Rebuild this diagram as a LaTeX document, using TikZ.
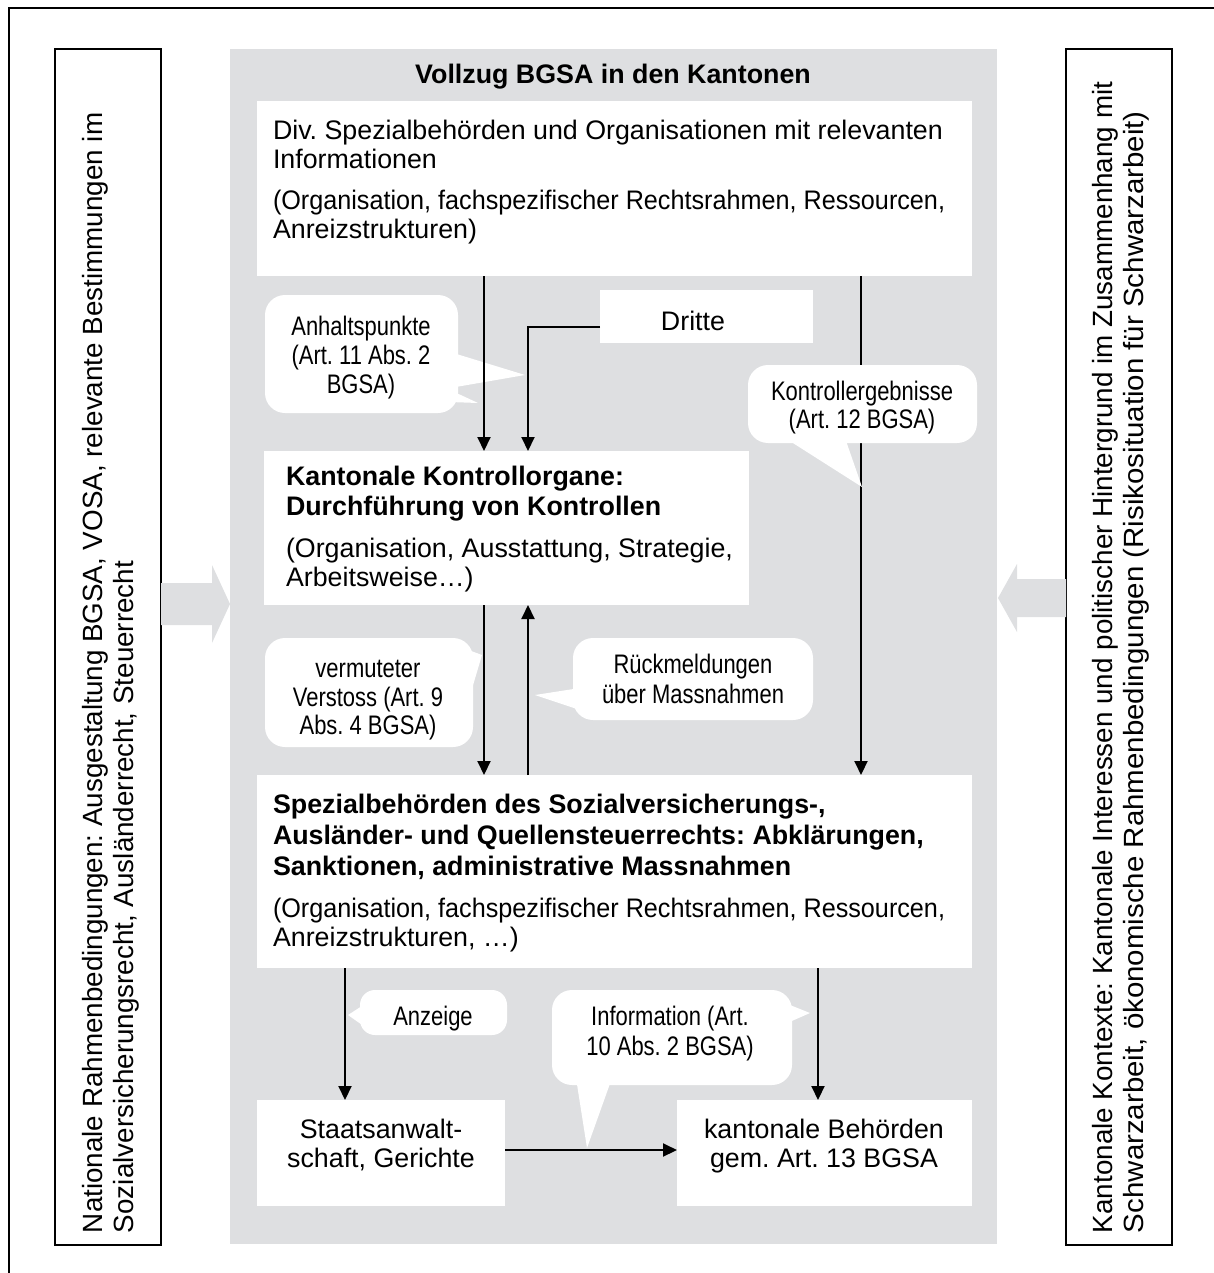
\documentclass[tikz,border=0pt]{standalone}
\usepackage{fontspec}
\setmainfont{Liberation Sans}
\newfontfamily\narrowfont[FakeStretch=0.82]{Liberation Sans}
\newfontfamily\condfont[FakeStretch=0.94]{Liberation Sans}
\newfontfamily\widefont[FakeStretch=1.06]{Liberation Sans}
\usetikzlibrary{arrows.meta,calc}
\definecolor{panel}{HTML}{DEDFE1}
\frenchspacing
\begin{document}
\begin{tikzpicture}[x=1pt,y=-1pt,
  every node/.style={inner sep=0pt, outer sep=0pt},
  wbox/.style={fill=white, anchor=north west},
  sbox/.style={draw=black, line width=2pt, anchor=north west, fill=white},
  txt/.style={font=\fontsize{26.8}{30}\selectfont, anchor=base west},
  ctxtl/.style={font=\condfont\fontsize{26.8}{30}\selectfont, anchor=base west},
  stxt/.style={font=\fontsize{27.8}{30}\selectfont, anchor=base west, rotate=90},
  btxt/.style={font=\fontsize{26.8}{30}\selectfont\bfseries, anchor=base west},
  ctxt/.style={font=\fontsize{26.8}{30}\selectfont, anchor=base},
  ntxt/.style={font=\narrowfont\fontsize{26.8}{30}\selectfont, anchor=base},
  conn/.style={line width=2pt, -{Triangle[length=14pt,width=13pt]}},
  bub/.style={fill=white, rounded corners=20pt, anchor=north west},
  tailfill/.style={fill=white},
  garrow/.style={fill=panel}
]
\useasboundingbox (0,0) rectangle (1214,1273);
% outer frame (clipped)
\draw[line width=2.5pt] (9,1273) -- (9,8) -- (1214,8);

% side boxes
\node[sbox, minimum width=106pt, minimum height=1196pt] (lbox) at (55,49) {};
\node[sbox, minimum width=106pt, minimum height=1196pt] (rbox) at (1066,49) {};
\node[stxt] (l1) at (102,1233) {Nationale Rahmenbedingungen: Ausgestaltung BGSA, VOSA, relevante Bestimmungen im};
\node[stxt] (l2) at (133,1233) {Sozialversicherungsrecht, Ausländerrecht, Steuerrecht};
\node[stxt] (r1) at (1112,1233) {Kantonale Kontexte: Kantonale Interessen und politischer Hintergrund im Zusammenhang mit};
\node[stxt, font=\widefont\fontsize{27.8}{30}\selectfont] (r2) at (1143,1233) {Schwarzarbeit, ökonomische Rahmenbedingungen (Risikosituation für Schwarzarbeit)};

% central panel
\node[fill=panel, anchor=north west, minimum width=767pt, minimum height=1195pt] (panel) at (230,49) {};
% grey block arrows
\fill[garrow] (161,583) -- (212,583) -- (212,565) -- (230,604) -- (212,643) -- (212,625) -- (161,625) -- cycle;
\fill[garrow] (1066,579) -- (1017,579) -- (1017,564) -- (998,598) -- (1017,632) -- (1017,617) -- (1066,617) -- cycle;

\node[btxt, anchor=base] (title) at (613,84) {Vollzug BGSA in den Kantonen};

% white boxes
\node[wbox, minimum width=715pt, minimum height=175pt] (b1) at (257,101) {};
\node[txt] (b1a) at (273,140) {Div. Spezialbehörden und Organisationen mit relevanten};
\node[txt] (b1b) at (273,169) {Informationen};
\node[ctxtl] (b1c) at (273,210) {(Organisation, fachspezifischer Rechtsrahmen, Ressourcen,};
\node[txt] (b1d) at (273,239) {Anreizstrukturen)};

\node[wbox, minimum width=213pt, minimum height=53pt] (dr) at (600,290) {};
\node[ctxt] (drt) at (693,330) {Dritte};

\node[wbox, minimum width=485pt, minimum height=154pt] (ko) at (264,451) {};
\node[btxt] (koa) at (286,485) {Kantonale Kontrollorgane:};
\node[btxt] (kob) at (286,515) {Durchführung von Kontrollen};
\node[txt] (koc) at (286,557) {(Organisation, Ausstattung, Strategie,};
\node[txt] (kod) at (286,586) {Arbeitsweise…)};

\node[wbox, minimum width=715pt, minimum height=193pt] (sp) at (257,775) {};
\node[btxt] (spa) at (273,813) {Spezialbehörden des Sozialversicherungs-,};
\node[btxt] (spb) at (273,844) {Ausländer- und Quellensteuerrechts: Abklärungen,};
\node[btxt] (spc) at (273,875) {Sanktionen, administrative Massnahmen};
\node[ctxtl] (spd) at (273,917) {(Organisation, fachspezifischer Rechtsrahmen, Ressourcen,};
\node[txt] (spe) at (273,946) {Anreizstrukturen, …)};

\node[wbox, minimum width=248pt, minimum height=106pt] (sa) at (257,1100) {};
\node[ctxt] (saa) at (381,1138) {Staatsanwalt-};
\node[ctxt] (sab) at (381,1167) {schaft, Gerichte};

\node[wbox, minimum width=295pt, minimum height=106pt] (kb) at (677,1100) {};
\node[ctxt] (kba) at (824,1138) {kantonale Behörden};
\node[ctxt] (kbb) at (824,1167) {gem. Art. 13 BGSA};

% x positions of connectors
\coordinate (xa) at (484,0);
\coordinate (xb) at (528,0);
\coordinate (xc) at (861,0);
\coordinate (xd) at (345,0);
\coordinate (xe) at (818,0);
\coordinate (yd) at (0,327);
\coordinate (yh) at (0,1150);

% connector covered by bubble
\draw[conn] (b1.south -| xc) -- (sp.north -| xc);

% speech bubbles
\node[bub, minimum width=193pt, minimum height=118pt] (anh) at (265,295) {};
\fill[tailfill] (450,352) -- (525,375) -- (450,388) -- cycle;
\fill[tailfill] (450,390) -- (478,403) -- (450,402) -- cycle;
\node[ntxt] (anha) at (361,335) {Anhaltspunkte};
\node[ntxt] (anhb) at (361,364) {(Art. 11 Abs. 2};
\node[ntxt] (anhc) at (361,393) {BGSA)};

\node[bub, minimum width=229pt, minimum height=78pt] (keg) at (748,365) {};
\fill[tailfill] (785,438) -- (862,487) -- (845,438) -- cycle;
\node[ntxt] (kega) at (862,400) {Kontrollergebnisse};
\node[ntxt] (kegb) at (862,428) {(Art. 12 BGSA)};

\node[bub, minimum width=208pt, minimum height=109pt] (ver) at (265,638) {};
\fill[tailfill] (455,645) -- (482,655) -- (471,692) -- cycle;
\node[ntxt] (vera) at (368,677) {vermuteter};
\node[ntxt] (verb) at (368,706) {Verstoss (Art. 9};
\node[ntxt] (verc) at (368,734) {Abs. 4 BGSA)};

\node[bub, minimum width=240pt, minimum height=82pt] (rue) at (573,638) {};
\fill[tailfill] (580,688) -- (535,695) -- (580,710) -- cycle;
\node[ntxt] (ruea) at (693,673) {Rückmeldungen};
\node[ntxt] (rueb) at (693,703) {über Massnahmen};

\node[bub, minimum width=147pt, minimum height=45pt, rounded corners=15pt] (anz) at (360,990) {};
\fill[tailfill] (365,1004) -- (348,1015) -- (365,1027) -- cycle;
\node[ntxt] (anzt) at (433,1025) {Anzeige};

\node[bub, minimum width=240pt, minimum height=95pt] (inf) at (552,990) {};
\fill[tailfill] (576,1078) -- (587,1148) -- (612,1078) -- cycle;
\fill[tailfill] (785,1003) -- (810,1013) -- (785,1024) -- cycle;
\node[ntxt] (infa) at (670,1025) {Information (Art.};
\node[ntxt] (infb) at (670,1055) {10 Abs. 2 BGSA)};

% connectors
\draw[conn] (b1.south -| xa) -- (ko.north -| xa);
\draw[conn] (dr.west |- yd) -| (ko.north -| xb);
\draw[conn] (ko.south -| xa) -- (sp.north -| xa);
\draw[conn] (sp.north -| xb) -- (ko.south -| xb);
\draw[conn] (sp.south -| xd) -- (sa.north -| xd);
\draw[conn] (sp.south -| xe) -- (kb.north -| xe);
\draw[conn] (sa.east |- yh) -- (kb.west |- yh);
\end{tikzpicture}
\end{document}
